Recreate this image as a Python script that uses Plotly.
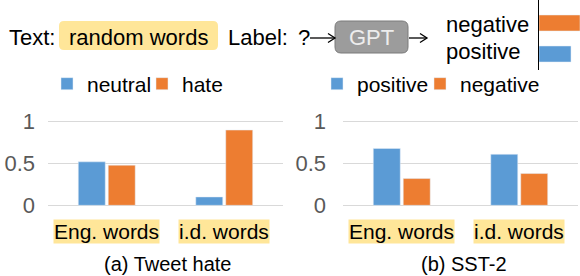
import plotly.graph_objects as go

W, H = 580, 276

# ---- data ----
categories = ["Eng. words", "i.d. words"]
tweet_neutral = [0.52, 0.10]
tweet_hate = [0.48, 0.90]
sst_positive = [0.68, 0.61]
sst_negative = [0.32, 0.38]
demo_labels = ["positive", "negative"]
demo_values = [0.78, 1.0]
y_ticks = [0, 0.5, 1]
y_ticktext = ["0", "0.5", "1"]

BLUE = "#5B9BD5"
ORANGE = "#ED7D31"
YELLOW = "#FFE699"
FONT = "Liberation Sans, Arial, sans-serif"


def px(x):
    return x / W


def py(y):
    return 1 - y / H


fig = go.Figure()

fig.add_trace(go.Bar(x=categories, y=tweet_neutral, name="neutral", marker_color=BLUE,
                     xaxis="x", yaxis="y", legend="legend"))
fig.add_trace(go.Bar(x=categories, y=tweet_hate, name="hate", marker_color=ORANGE,
                     xaxis="x", yaxis="y", legend="legend", legendwidth=60))
fig.add_trace(go.Bar(x=categories, y=sst_positive, name="positive", marker_color=BLUE,
                     xaxis="x2", yaxis="y2", legend="legend2"))
fig.add_trace(go.Bar(x=categories, y=sst_negative, name="negative", marker_color=ORANGE,
                     xaxis="x2", yaxis="y2", legend="legend2", legendwidth=95))
# small illustrative output distribution (top right)
fig.add_trace(go.Bar(y=[0, 1], x=demo_values, orientation="h", width=0.516,
                     marker_color=[BLUE, ORANGE], showlegend=False,
                     xaxis="x3", yaxis="y3"))

ydom = [py(209.5), py(117.5)]
yax = dict(range=[-0.05, 1.05], tickvals=y_ticks, ticktext=y_ticktext,
           showgrid=True, gridcolor="#D9D9D9", gridwidth=1, zeroline=False,
           showline=False, ticks="", tickfont=dict(size=22, color="#595959", family=FONT),
           fixedrange=True)
xax = dict(type="category", showticklabels=False, showgrid=False, zeroline=False,
           showline=False, ticks="")

annotations = []
shapes = []


def rounded_rect(x0, y0, x1, y1, r, fill, line=None):
    X0, X1 = px(x0), px(x1)
    Y0, Y1 = py(y0), py(y1)
    rx, ry = r / W, r / H
    path = (f"M{X0+rx},{Y0} L{X1-rx},{Y0} Q{X1},{Y0} {X1},{Y0-ry} "
            f"L{X1},{Y1+ry} Q{X1},{Y1} {X1-rx},{Y1} L{X0+rx},{Y1} "
            f"Q{X0},{Y1} {X0},{Y1+ry} L{X0},{Y0-ry} Q{X0},{Y0} {X0+rx},{Y0} Z")
    d = dict(type="path", path=path, xref="paper", yref="paper", fillcolor=fill,
             layer="below")
    d["line"] = dict(width=1, color=line) if line else dict(width=0)
    return d


def text(x, y, s, size=22, color="black", xanchor="left"):
    annotations.append(dict(x=px(x), y=py(y), xref="paper", yref="paper", text=s,
                            showarrow=False, xanchor=xanchor, yanchor="middle",
                            font=dict(size=size, color=color, family=FONT)))


def arrow(x0, x1, y):
    shapes.append(dict(type="line", x0=px(x0), x1=px(x1), y0=py(y), y1=py(y),
                       xref="paper", yref="paper", line=dict(color="black", width=1.3)))
    shapes.append(dict(type="path", xref="paper", yref="paper",
                       path=f"M{px(x1-7)},{py(y-4.5)} L{px(x1)},{py(y)} L{px(x1-7)},{py(y+4.5)}",
                       line=dict(color="black", width=1.3)))


# top row illustration
text(7, 37, "Text:")
shapes.append(rounded_rect(59, 21, 218, 50, 5, YELLOW))
text(138.5, 37, "random words", xanchor="center")
text(226, 37, "Label:")
text(296, 37, "?")
arrow(310, 335, 38)
shapes.append(rounded_rect(335, 21, 408, 53, 6, "#9C9C9C", "#7A7A7A"))
text(371.5, 37.5, "GPT", color="#EDEDED", xanchor="center")
arrow(409, 427, 38)
text(444, 25, "negative")
text(444, 52, "positive")

# category labels with highlight
for xr in ["x", "x2"]:
    for c in categories:
        annotations.append(dict(x=c, xref=xr, y=py(231.5), yref="paper", text=c,
                                showarrow=False, xanchor="center", yanchor="middle",
                                bgcolor=YELLOW, borderpad=0,
                                font=dict(size=21, color="black", family=FONT)))

# captions
text(167, 264, "(a) Tweet hate", size=20, xanchor="center")
text(464, 264, "(b) SST-2", size=20, xanchor="center")

fig.update_layout(
    width=W, height=H, margin=dict(l=0, r=0, t=0, b=0, pad=0, autoexpand=False),
    paper_bgcolor="white", plot_bgcolor="white",
    font=dict(family=FONT, size=21, color="black"),
    barmode="group", bargap=0.49, bargroupgap=0.1,
    xaxis=dict(domain=[px(48), px(283)], anchor="y", **xax),
    yaxis=dict(domain=ydom, anchor="x", ticklabelstandoff=12, **yax),
    xaxis2=dict(domain=[px(343), px(578)], anchor="y2", **xax),
    yaxis2=dict(domain=ydom, anchor="x2", ticklabelstandoff=16, **yax),
    xaxis3=dict(domain=[px(539), 1], anchor="y3", range=[0, 1], visible=False,
                fixedrange=True),
    yaxis3=dict(domain=[py(70), 1], anchor="x3", range=[-0.516, 1.742],
                showticklabels=False, showgrid=False, zeroline=False, ticks="",
                showline=True, linecolor="black", linewidth=1, fixedrange=True),
    legend=dict(orientation="h", x=px(47), xanchor="left", y=py(84), yanchor="middle",
                bgcolor="rgba(0,0,0,0)", entrywidth=50, font=dict(size=21),
                traceorder="normal"),
    legend2=dict(orientation="h", x=px(317), xanchor="left", y=py(84), yanchor="middle",
                 bgcolor="rgba(0,0,0,0)", entrywidth=58, font=dict(size=21),
                 traceorder="normal"),
    annotations=annotations, shapes=shapes,
)

fig.write_html("out.html", config={"displayModeBar": False},
               post_script="document.body.style.margin='0';document.body.style.padding='0';")
